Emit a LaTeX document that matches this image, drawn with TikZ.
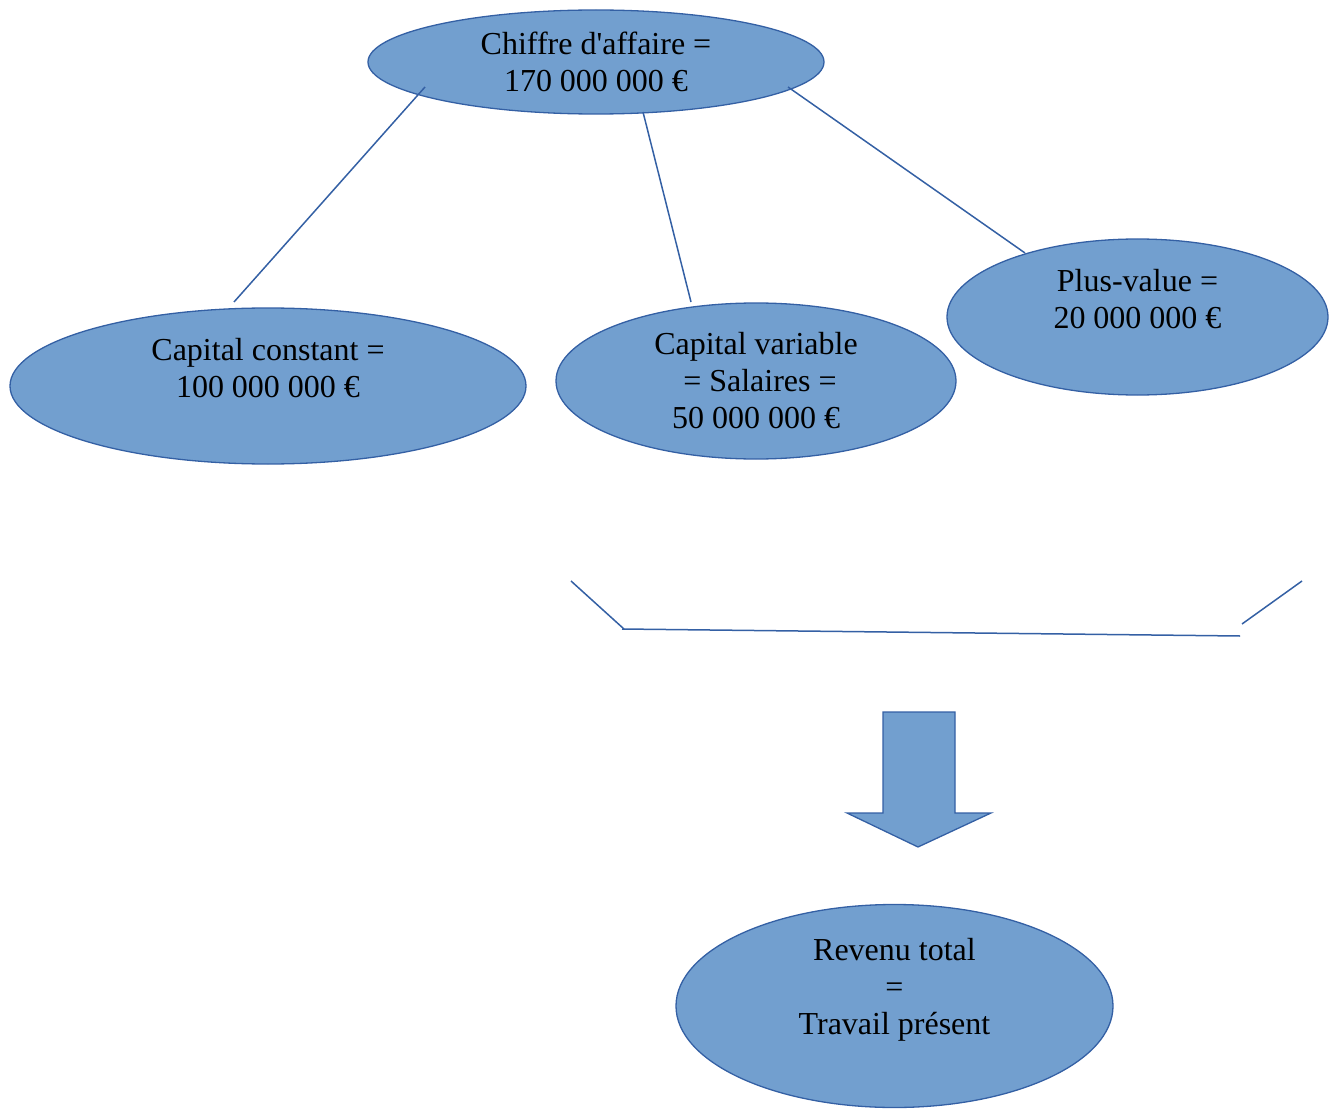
\documentclass[tikz,border=0pt]{standalone}
\usepackage{fontspec}
\setmainfont{Liberation Serif}
\usetikzlibrary{shapes.geometric}
\definecolor{bfill}{RGB}{114,159,207}
\definecolor{bline}{RGB}{52,96,164}
\begin{document}
\begin{tikzpicture}[x=1pt,y=-1pt,
  oval/.style={ellipse,draw=bline,fill=bfill,line width=1.3pt,inner sep=0pt},
  lbl/.style={align=center,inner sep=0pt,font=\fontsize{32}{37}\selectfont},
  conn/.style={draw=bline,line width=1.5pt}]
\useasboundingbox (0,0) rectangle (1339,1110);
% ellipses
\node[oval,minimum width=456pt,minimum height=104pt] (top) at (596,62) {};
\node[oval,minimum width=516pt,minimum height=156pt] (cc) at (268,386) {};
\node[oval,minimum width=400pt,minimum height=156pt] (cv) at (756,381) {};
\node[oval,minimum width=381pt,minimum height=156pt] (pv) at (1137.5,317) {};
\node[oval,minimum width=437pt,minimum height=203pt] (rt) at (894.5,1006) {};
% texts
\node[lbl] (ttop) at (596,62) {Chiffre d\textquotesingle affaire =\\170 000 000 €};
\node[lbl] (tcc) at (268,368) {Capital constant =\\100 000 000 €};
\node[lbl] (tcv) at (756,381) {Capital variable\\\ = Salaires =\\50 000 000 €};
\node[lbl] (tpv) at (1137.5,299.5) {Plus-value =\\20 000 000 €};
\node[lbl] (trt) at (894.5,990) {Revenu total\\=\\Travail présent};
% connectors
\coordinate (a1) at (425,87);  \coordinate (b1) at (234,302);
\coordinate (a2) at (643,112); \coordinate (b2) at (691,302);
\coordinate (a3) at (788,87);  \coordinate (b3) at (1025,253);
\draw[conn] (a1) -- (b1);
\draw[conn] (a2) -- (b2);
\draw[conn] (a3) -- (b3);
% bracket
\coordinate (k1) at (571,581); \coordinate (k2) at (624,629);
\coordinate (k3) at (622,629); \coordinate (k4) at (1240,636);
\coordinate (k5) at (1242,624); \coordinate (k6) at (1302,581);
\draw[conn] (k1) -- (k2);
\draw[conn] (k3) -- (k4);
\draw[conn] (k5) -- (k6);
% block arrow
\draw[draw=bline,fill=bfill,line width=1.3pt,line join=miter]
  (883,712) -- (955,712) -- (955,813) -- (991,813) -- (918,847)
  -- (847,813) -- (883,813) -- cycle;
\end{tikzpicture}
\end{document}
